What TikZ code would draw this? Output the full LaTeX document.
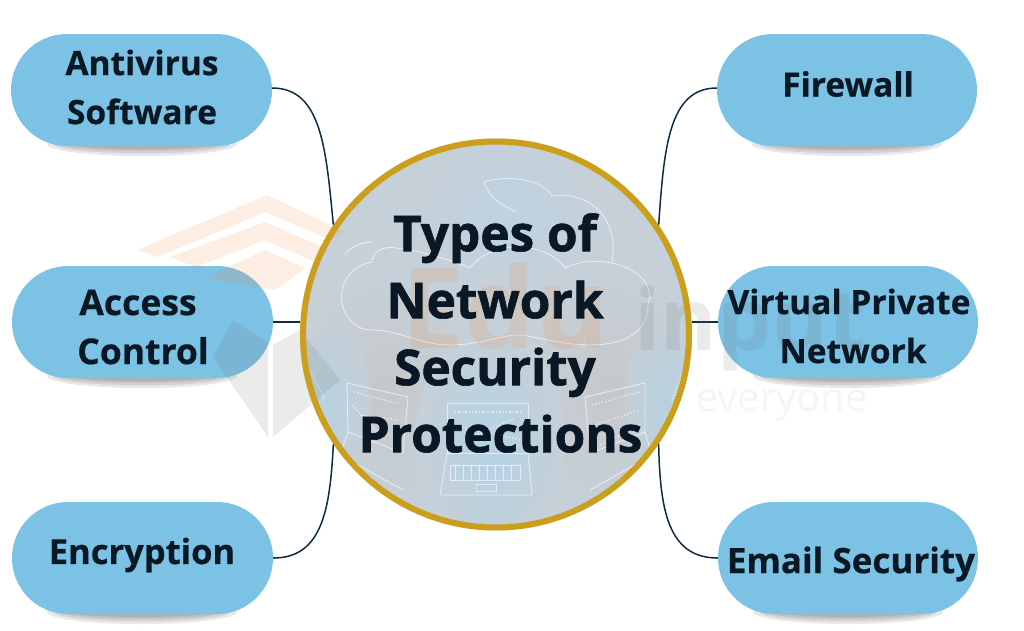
\documentclass[tikz,border=0pt]{standalone}
\usepackage{fontspec}
\setmainfont{Open Sans}
\newfontfamily\pillfont[BoldFeatures={FakeBold=0.5}]{Open Sans}
\newfontfamily\titlefont[BoldFeatures={FakeBold=1.3}]{Open Sans}
\usetikzlibrary{calc}
\definecolor{pillblue}{HTML}{7CC2E5}
\definecolor{inkdark}{HTML}{0A1826}
\definecolor{linkdark}{HTML}{0F2B40}
\definecolor{ringgold}{HTML}{CB9E1C}
\definecolor{discgrey}{HTML}{C6D0D8}
\definecolor{disctop}{HTML}{BDD2E2}
\definecolor{discblue}{HTML}{B4D2E4}
\definecolor{wmorange}{HTML}{F0873A}
\definecolor{wmgrey}{HTML}{6E6E6E}
\tikzset{
  x=1pt,y=-1pt,
  pill/.style={fill=pillblue,minimum width=261pt,minimum height=112pt,rounded corners=55.9pt,inner sep=0pt},
  pilltext/.style={font=\pillfont\fontsize{33.5}{49}\selectfont\bfseries,text=inkdark,align=center,inner sep=0pt},
  titletext/.style={font=\titlefont\fontsize{49.5}{67}\selectfont\bfseries,text=inkdark,align=center,inner sep=0pt},
  link/.style={draw=linkdark,line width=1.5pt},
  disc/.style={circle,minimum size=392pt,inner sep=0pt},
  pen/.style={draw=white,line width=0.9pt,opacity=0.6},
  wmo/.style={fill=wmorange,opacity=0.15},
  wmg/.style={fill=wmgrey,opacity=0.14},
}
\newcommand{\pillshadow}[2]{%
  \foreach \w/\h in {190/24,176/19,160/14,140/10}{%
    \fill[black,opacity=0.09] (#1,#2) ellipse[x radius=\w/2,y radius=\h/2];}}
\begin{document}
\begin{tikzpicture}
\useasboundingbox (0,0) rectangle (1024,630);
% shadows
\pillshadow{142}{144}
\pillshadow{847}{144}
\pillshadow{142}{376}
\pillshadow{848}{376}
\pillshadow{142}{612}
\pillshadow{848}{612}
% pills
\node[pill] (av) at (141.5,90) {};
\node[pill,minimum width=260pt] (fw) at (847,90) {};
\node[pill] (ac) at (142.5,322) {};
\node[pill,minimum width=260pt] (vp) at (848,322) {};
\node[pill] (en) at (142.5,558) {};
\node[pill,minimum width=260pt] (em) at (848,558) {};
% disc
\node[disc,fill=discgrey] (c) at (496,334.5) {};
% connectors
\draw[link] ($(av.east)+(0,-2)$) .. controls (322,88) and (326,150) .. (c.146);
\draw[link] ($(fw.west)+(0,-2)$) .. controls (668,88) and (664,150) .. (c.34);
\draw[link] (ac.east) -- (ac.east -| c.west);
\draw[link] (vp.west) -- (vp.west -| c.east);
\draw[link] (en.east) .. controls (322,558) and (330,510) .. (c.214);
\draw[link] (em.west) .. controls (668,558) and (660,510) .. (c.326);
% disc picture
\begin{scope}
\clip (c.center) circle (195pt);
\shade[inner color=disctop,outer color=discgrey] (510,215) ellipse[x radius=90,y radius=85];
\shade[inner color=black!22!white,outer color=discgrey,opacity=0.8] (385,390) ellipse[x radius=90,y radius=110];
\shade[inner color=black!22!white,outer color=discgrey,opacity=0.8] (610,390) ellipse[x radius=90,y radius=110];
\shade[inner color=discblue,outer color=discgrey] (490,440) ellipse[x radius=75,y radius=110];
\shade[inner color=discblue,outer color=discgrey,opacity=0.8] (330,400) ellipse[x radius=40,y radius=80];
\shade[inner color=discblue,outer color=discgrey,opacity=0.8] (665,400) ellipse[x radius=40,y radius=80];
% upper cloud
\draw[pen] (484,182) .. controls (500,176) and (540,176) .. (552,196)
  .. controls (590,190) and (620,220) .. (612,262);
\draw[pen] (484,182) .. controls (490,200) and (505,206) .. (516,212);
% main cloud
\draw[pen] (372,330) .. controls (335,330) and (328,270) .. (372,262)
  .. controls (372,250) and (385,246) .. (396,248)
  .. controls (420,250) and (450,260) .. (470,268)
  .. controls (490,240) and (545,240) .. (565,268)
  .. controls (600,250) and (660,270) .. (648,305)
  .. controls (648,335) and (620,345) .. (590,345)
  .. controls (560,345) and (530,335) .. (520,335)
  .. controls (500,335) and (480,345) .. (450,345)
  .. controls (420,345) and (400,330) .. (372,330);
\draw[pen] (345,254) .. controls (352,246) and (362,242) .. (372,242);
% laptops
\draw[pen] (447,403) rectangle (528,453);
\draw[pen] (447,453) -- (440,495) -- (532,495) -- (528,453);
\draw[pen] (450,465) rectangle (520,480);
\draw[pen] (476,484) rectangle (496,491);
\foreach \u in {455,463,...,515}{\draw[pen,line width=0.5pt] (\u,465) -- (\u,480);}
\draw[pen] (347,383) -- (408,397) -- (403,453) -- (348,432) -- cycle;
\draw[pen] (348,432) -- (340,455) -- (403,490);
\draw[pen] (645,383) -- (585,397) -- (590,453) -- (645,432) -- cycle;
\draw[pen] (645,432) -- (652,455) -- (590,490);
\foreach \a/\b/\d/\e in {
  354/392/400/404, 360/415/398/420, 352/405/385/440,
  455/412/520/412, 452/425/522/440, 465/440/515/418,
  592/405/640/392, 595/425/640/410, 600/445/640/425}{
  \draw[pen,line width=1.4pt,dotted] (\a,\b) -- (\d,\e);}
\draw[pen,line width=1.4pt,dotted] (305,360) -- (325,400) (688,360) -- (672,400);
\end{scope}
% watermark
\fill[wmo] (267,195) -- (345,232) -- (330,240) -- (265,212) -- (158,257) -- (137,250) -- cycle;
\fill[wmo] (265,222) -- (330,250) -- (315,262) -- (265,240) -- (196,267) -- (170,257) -- cycle;
\fill[wmo] (265,250) -- (305,268) -- (275,290) -- (205,278) -- cycle;
\fill[wmg] (233,320) -- (268,343) -- (268,437) -- (213,357) -- cycle;
\fill[wmg] (273,345) -- (300,330) -- (340,380) -- (273,437) -- cycle;
\node[anchor=base,font=\fontsize{112}{112}\selectfont\bfseries,text=wmorange,opacity=0.15,inner sep=0pt] (wmedu) at (505,348) {Edu};
\node[anchor=base,font=\fontsize{86}{86}\selectfont\bfseries,text=wmgrey,opacity=0.14,inner sep=0pt] (wminput) at (750,350) {input};
\node[font=\fontsize{40}{40}\selectfont,text=wmgrey,opacity=0.07,inner sep=0pt] (wmever) at (782,405) {everyone};
% ring
\node[disc,draw=ringgold,line width=6pt,minimum size=386pt] (ring) at (c) {};
% labels
\node[pilltext] (tav) at (142,87) {Antivirus\\Software};
\node[pilltext] (tfw) at (848,84) {Firewall};
\node[pilltext,font=\pillfont\fontsize{35.5}{49}\selectfont\bfseries] (tac) at (138,327) {Access\\\hspace*{10pt}Control};
\node[pilltext] (tvp) at (849,326) {Virtual Private\\\hspace*{8pt}Network};
\node[pilltext,font=\pillfont\fontsize{34.5}{49}\selectfont\bfseries] (ten) at (142,555) {Encryption};
\node[pilltext,font=\pillfont\fontsize{35}{49}\selectfont\bfseries] (tem) at (851,564) {Email Security};
\node[titletext] (title) at (495,333) {Types of\\Network\\Security\\\hspace*{11pt}Protections};
\end{tikzpicture}
\end{document}
